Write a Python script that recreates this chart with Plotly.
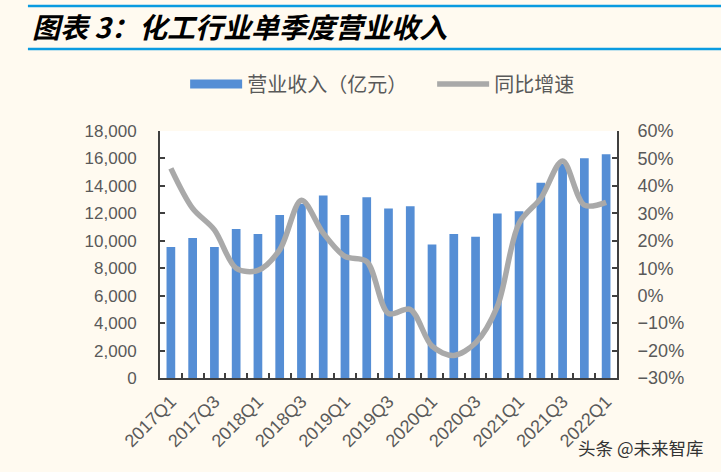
import plotly.graph_objects as go

categories = ["2017Q1", "2017Q2", "2017Q3", "2017Q4",
              "2018Q1", "2018Q2", "2018Q3", "2018Q4",
              "2019Q1", "2019Q2", "2019Q3", "2019Q4",
              "2020Q1", "2020Q2", "2020Q3", "2020Q4",
              "2021Q1", "2021Q2", "2021Q3", "2021Q4",
              "2022Q1"]
revenue = [9550, 10200, 9550, 10850, 10500, 11870, 12700, 13300, 11870, 13180,
           12350, 12520, 9730, 10490, 10290, 11990, 12160, 14220, 15600, 16020,
           16300]
growth_pct = [46.4, 31.8, 24.0, 10.0, 9.2, 16.7, 34.8, 22.8, 14.3, 12.4,
              -6.5, -5.0, -18.4, -21.8, -17.2, -4.0, 26.4, 35.5, 49.1, 33.0,
              34.0]
tick_labels = [c if c.endswith(("Q1", "Q3")) else "" for c in categories]

title_text = "图表 3：化工行业单季度营业收入"
bar_name = "营业收入（亿元）"
line_name = "同比增速"
watermark = "头条 @未来智库"

BAR_COLOR = "#558ED5"
LINE_COLOR = "#A9A9A9"
AXIS_COLOR = "#404040"
TEXT_COLOR = "#595959"
FONT = "Liberation Sans, Noto Sans CJK SC, sans-serif"

fig = go.Figure()
fig.add_trace(go.Bar(x=categories, y=revenue, marker=dict(color=BAR_COLOR, line=dict(width=0)),
                     showlegend=False, name=bar_name))
# legend-only swatch for bars (wide bar-like swatch); non-collapsing spaces pad the legend gap
fig.add_trace(go.Scatter(x=[None], y=[None], mode="lines", name=bar_name + "\u3000\u2002",
                         line=dict(color=BAR_COLOR, width=9)))
fig.add_trace(go.Scatter(x=categories, y=[g / 100 for g in growth_pct], yaxis="y2",
                         mode="lines", name=line_name,
                         line=dict(color=LINE_COLOR, width=5.5, shape="spline", smoothing=0.9)))

fig.update_layout(
    width=721, height=472,
    margin=dict(l=160, r=104, t=131, b=94),
    paper_bgcolor="#FFFAF0",
    plot_bgcolor="#FFFFFF",
    font=dict(family=FONT, size=15, color=TEXT_COLOR),
    bargap=0.6,
    showlegend=True,
    legend=dict(orientation="h", x=0.055, xanchor="left", y=1.19, yanchor="middle",
                itemwidth=52,
                font=dict(family="Noto Sans CJK SC, sans-serif", size=20, color=TEXT_COLOR),
                bgcolor="rgba(0,0,0,0)", tracegroupgap=0, traceorder="normal"),
    xaxis=dict(type="category", tickmode="array", tickvals=categories, ticktext=tick_labels,
               tickson="boundaries", ticks="inside", ticklen=5, tickwidth=2, tickcolor=AXIS_COLOR,
               showline=True, linecolor=AXIS_COLOR, linewidth=2, showgrid=False,
               tickangle=-45, ticklabelstandoff=4, tickfont=dict(size=18, color=TEXT_COLOR)),
    yaxis=dict(range=[0, 18000], dtick=2000, tickformat=",", ticks="inside", ticklen=5,
               tickwidth=2, tickcolor=AXIS_COLOR, showline=True, linecolor=AXIS_COLOR,
               linewidth=2, showgrid=False, zeroline=False, ticklabelstandoff=18,
               tickfont=dict(size=17, color=TEXT_COLOR)),
    yaxis2=dict(range=[-0.3, 0.6], dtick=0.1, tickformat=".0%", overlaying="y", side="right",
                ticks="inside", ticklen=5, tickwidth=2, tickcolor=AXIS_COLOR, showline=True,
                linecolor=AXIS_COLOR, linewidth=2, showgrid=False, zeroline=False,
                ticklabelstandoff=15, tickfont=dict(size=18, color=TEXT_COLOR)),
)

fig.add_annotation(text="<b><i>" + title_text + "</i></b>", xref="paper", yref="paper",
                   x=-0.285, y=1.425, xanchor="left", yanchor="middle", showarrow=False,
                   font=dict(family="Noto Sans CJK SC, sans-serif", size=28, color="#000000"))
fig.add_annotation(text=watermark, xref="paper", yref="paper", x=1.052, y=-0.28,
                   xanchor="center", yanchor="middle", showarrow=False,
                   font=dict(family="Noto Sans CJK SC, sans-serif", size=17.5, color="#333333"))

for yy in (1.506, 1.332):
    fig.add_shape(type="line", xref="paper", yref="paper", x0=-0.289, x1=1.23, y0=yy, y1=yy,
                  line=dict(color="#0A9BE0", width=2.5))

fig.write_html("out.html")
